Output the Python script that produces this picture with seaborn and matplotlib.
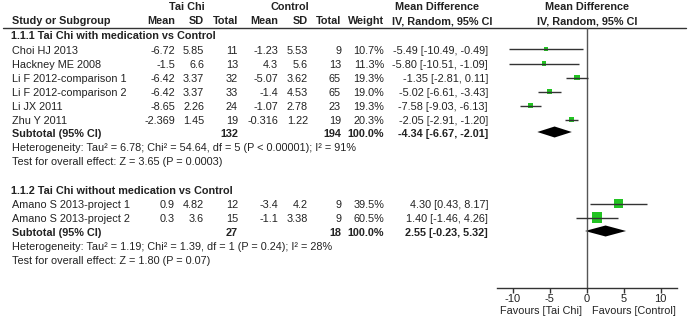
import numpy as np
import pandas as pd
import matplotlib
matplotlib.use('Agg')
import matplotlib.pyplot as plt
import seaborn as sns

# ---- data ----
studies = ['Choi HJ 2013', 'Hackney ME 2008', 'Li F 2012-comparison 1',
           'Li F 2012-comparison 2', 'Li JX 2011', 'Zhu Y 2011',
           'Amano S 2013-project 1', 'Amano S 2013-project 2']
group = [1, 1, 1, 1, 1, 1, 2, 2]
tc_mean = ['-6.72', '-1.5', '-6.42', '-6.42', '-8.65', '-2.369', '0.9', '0.3']
tc_sd = ['5.85', '6.6', '3.37', '3.37', '2.26', '1.45', '4.82', '3.6']
tc_n = [11, 13, 32, 33, 24, 19, 12, 15]
ct_mean = ['-1.23', '4.3', '-5.07', '-1.4', '-1.07', '-0.316', '-3.4', '-1.1']
ct_sd = ['5.53', '5.6', '3.62', '4.53', '2.78', '1.22', '4.2', '3.38']
ct_n = [9, 13, 65, 65, 23, 19, 9, 9]
weight = [10.7, 11.3, 19.3, 19.0, 19.3, 20.3, 39.5, 60.5]
md = [-5.49, -5.80, -1.35, -5.02, -7.58, -2.05, 4.30, 1.40]
lo = [-10.49, -10.51, -2.81, -6.61, -9.03, -2.91, 0.43, -1.46]
hi = [-0.49, -1.09, 0.11, -3.43, -6.13, -1.20, 8.17, 4.26]

group_titles = ['1.1.1 Tai Chi with medication vs Control',
                '1.1.2 Tai Chi without medication vs Control']
sub_tc_n = [132, 27]
sub_ct_n = [194, 18]
sub_md = [-4.34, 2.55]
sub_lo = [-6.67, -0.23]
sub_hi = [-2.01, 5.32]
het_text = ['Heterogeneity: Tau\u00b2 = 6.78; Chi\u00b2 = 54.64, df = 5 (P < 0.00001); I\u00b2 = 91%',
            'Heterogeneity: Tau\u00b2 = 1.19; Chi\u00b2 = 1.39, df = 1 (P = 0.24); I\u00b2 = 28%']
z_text = ['Test for overall effect: Z = 3.65 (P = 0.0003)',
          'Test for overall effect: Z = 1.80 (P = 0.07)']
xticks = [-10, -5, 0, 5, 10]

sns.set_style('white')
plt.rcParams['font.family'] = ['Liberation Sans', 'DejaVu Sans']
fs = 7.8
tcol = '#222222'

W, H = 689, 320
fig = plt.figure(figsize=(W / 100, H / 100), dpi=100)
tab = fig.add_axes([0, 0, 1, 1])
tab.set_xlim(0, W)
tab.set_ylim(H, 0)
tab.axis('off')

# row positions (pixels from top)
row_g = [[50.5, 65, 79, 93, 107, 121], [205, 219]]
row_title = [36, 191]
row_sub = [134, 233]
row_het = [148, 247]
row_z = [162, 261]


def txt(x, y, s, ha='left', bold=False, **kw):
    tab.text(x, y, s, ha=ha, va='center', fontsize=fs, color=tcol,
             fontweight='bold' if bold else 'normal', **kw)


# header
txt(187, 7, 'Tai Chi', 'center', True)
txt(290, 7, 'Control', 'center', True)
txt(437, 7, 'Mean Difference', 'center', True)
txt(587, 7, 'Mean Difference', 'center', True)
txt(12, 21, 'Study or Subgroup', bold=True)
for x, s in [(175, 'Mean'), (204, 'SD'), (238, 'Total'), (278, 'Mean'),
             (308, 'SD'), (341, 'Total'), (384, 'Weight')]:
    txt(x, 21, s, 'right', True)
txt(442, 21, 'IV, Random, 95% CI', 'center', True)
txt(587, 21, 'IV, Random, 95% CI', 'center', True)
tab.plot([3, 686], [28, 28], color='#333333', lw=1)

rows = []
k = 0
for g in range(2):
    txt(11, row_title[g], group_titles[g], bold=True)
    for y in row_g[g]:
        txt(12, y, studies[k])
        txt(175, y, tc_mean[k], 'right')
        txt(204, y, tc_sd[k], 'right')
        txt(238, y, str(tc_n[k]), 'right')
        txt(278, y, ct_mean[k], 'right')
        txt(308, y, ct_sd[k], 'right')
        txt(341, y, str(ct_n[k]), 'right')
        txt(384, y, f'{weight[k]:.1f}%', 'right')
        txt(488, y, f'{md[k]:.2f} [{lo[k]:.2f}, {hi[k]:.2f}]', 'right')
        rows.append(y - 1.5)
        k += 1
    y = row_sub[g]
    txt(12, y, 'Subtotal (95% CI)', bold=True)
    txt(238, y, str(sub_tc_n[g]), 'right', True)
    txt(341, y, str(sub_ct_n[g]), 'right', True)
    txt(384, y, '100.0%', 'right', True)
    txt(488, y, f'{sub_md[g]:.2f} [{sub_lo[g]:.2f}, {sub_hi[g]:.2f}]', 'right', True)
    txt(12, row_het[g], het_text[g])
    txt(12, row_z[g], z_text[g])

# ---- forest panel ----
x0, x1, yax = 497, 677, 288
ax = fig.add_axes([x0 / W, (H - yax) / H, (x1 - x0) / W, yax / H])
ax.set_xlim(-12.12, 12.2)
ax.set_ylim(yax, 0)
ax.patch.set_alpha(0)

df = pd.DataFrame({'md': md, 'lo': lo, 'hi': hi, 'weight': weight, 'y': rows})
ax.axvline(0, ymin=0, ymax=1 - 28 / yax, color='#555555', lw=1)
ax.hlines(df['y'], df['lo'], df['hi'], color='#333333', lw=1)
c = 0.86
sns.scatterplot(data=df, x='md', y='y', size='weight',
                sizes=(c * min(weight), c * max(weight)), marker='s',
                color='#22c322', edgecolor='#22c322', linewidth=0,
                legend=False, ax=ax)
for g in range(2):
    yc = row_sub[g] - 2
    h = 5.5
    ax.fill([sub_lo[g], sub_md[g], sub_hi[g], sub_md[g]],
            [yc, yc - h, yc, yc + h], color='black', lw=0)

for s in ['top', 'right', 'left']:
    ax.spines[s].set_visible(False)
ax.spines['bottom'].set_color('#333333')
ax.spines['bottom'].set_linewidth(1)
ax.set_xticks(xticks)
ax.set_xticklabels([str(t) for t in xticks], fontsize=fs + 0.2, color=tcol)
ax.tick_params(axis='x', direction='out', length=3.5, width=1, color='#333333',
               pad=0.5, bottom=True)
ax.set_yticks([])
ax.set_xlabel('')
ax.set_ylabel('')
txt(582, 311, 'Favours [Tai Chi]', 'right')
txt(592, 311, 'Favours [Control]', 'left')

fig.savefig('out.png', dpi=100)
